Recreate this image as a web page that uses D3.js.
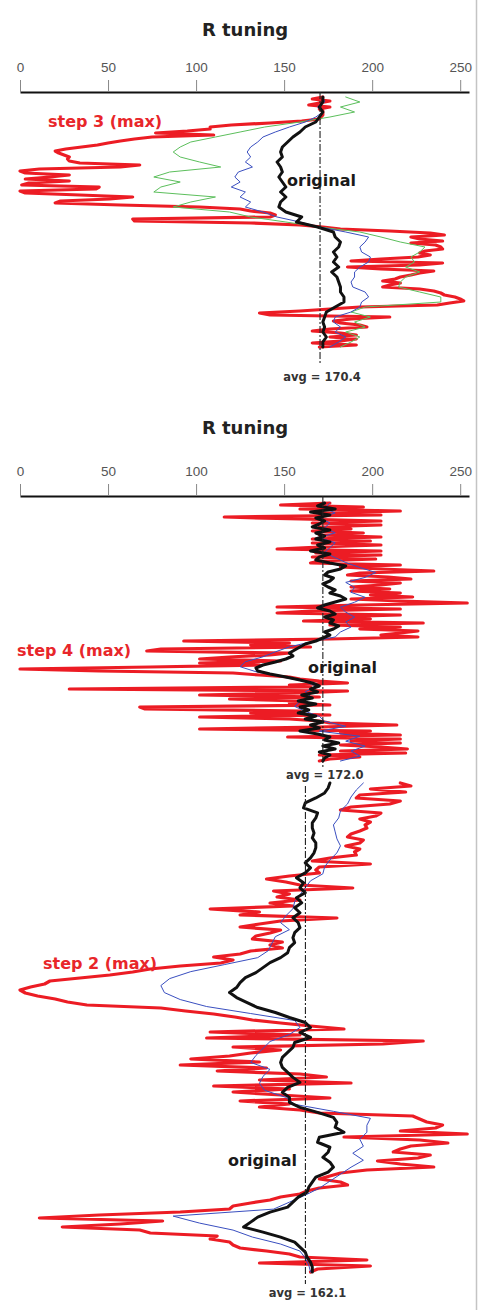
<!DOCTYPE html>
<html>
<head>
<meta charset="utf-8">
<script src="https://cdn.jsdelivr.net/npm/d3@7"></script>
<style>
  body { margin: 0; background: #fff; }
  svg { display: block; }
</style>
</head>
<body>
<div id="chart"></div>
<script>
// axis ticks (R value)
const tickValues = [0, 50, 100, 150, 200, 250];
const titleText = 'R tuning';
const avgValues = [170.4, 172.0, 162.1];

// profile A : step 3 (max) - samples top to bottom
const aRed = [172,166,176,170,164,176,170,172,172,172,171,170,160,142,120,108,108,95,77,110,75,65,57,50,44,35,26,20,22,25,28,27,28,
  34,68,57,11,0,3,28,17,3,28,5,1,45,43,0,3,34,64,51,23,20,57,102,125,131,142,145,142,64,65,131,159,172,182,210,233,241,222,227,240,
  222,236,239,240,230,227,233,226,205,188,240,227,186,205,235,227,222,216,213,206,216,210,206,227,235,239,241,247,250,252,244,237,
  193,176,159,136,142,210,188,178,182,193,197,176,166,182,191,176,191,182,166,191,170];
const aGreen = [185,193,182,190,176,159,139,125,111,97,91,87,91,102,114,85,76,91,80,76,111,97,87,119,131,151,170,193,205,216,
  230,227,222,224,219,227,219,216,215,227,239,239,196,188,199,190,196,185,193,188,182];
const aBlue = [172,173,169,172,168,162,153,145,138,135,131,129,131,128,132,124,122,125,120,128,125,131,128,138,146,159,170,185,198,196,
  193,194,199,198,193,190,190,188,189,196,198,194,193,188,179,178,182,179,185,181,176];
const aBlack = [172,172,170,172,170,168,162,159,155,152,149,148,149,146,148,149,147,149,151,148,151,148,147,151,160,157,169,178,179,182,
  181,178,180,178,181,177,180,181,182,182,184,184,179,174,173,172,173,172,174,172,172];

// profile B : step 4 (max)
const bRed = [176,148,195,159,216,170,205,116,159,205,166,205,170,188,166,195,170,205,166,199,166,205,170,146,205,168,205,166,202,170,
  165,216,182,205,235,193,186,209,222,188,216,205,188,210,188,216,199,223,188,216,254,193,146,216,165,146,216,176,199,161,
  229,176,216,193,226,216,205,226,176,93,153,131,165,80,72,153,142,119,102,148,102,136,74,0,45,121,136,153,159,170,
  186,153,165,28,186,159,102,170,119,159,153,176,68,71,159,131,176,102,153,170,176,214,170,102,199,182,216,152,216,188,
  216,182,205,220,182,219,170,193,176,170];
const bBlue = [176,173,179,170,176,173,179,170,179,176,173,179,185,193,202,196,185,190,188,196,190,182,185,190,185,188,182,179,165,153,
  145,138,128,125,134,148,162,169,162,165,159,156,162,170,173,185,170,193,185,196,188,193,182];
const bBlack = [173,169,179,165,176,168,173,170,166,176,168,173,168,176,169,173,165,176,170,168,176,185,182,175,173,178,176,172,175,179,
  176,182,185,179,173,169,176,179,173,178,176,181,178,173,176,172,168,162,159,156,153,155,151,145,138,134,135,142,151,159,
  166,170,165,169,160,166,158,168,159,164,158,168,162,172,165,170,159,169,176,173,181,172,179,170,176,173,172];

// profile C : step 2 (max)
const cRed = [216,222,199,219,193,191,216,210,188,182,205,202,193,199,196,197,193,188,186,195,193,185,193,190,191,176,166,199,170,168,
  170,153,140,151,159,189,144,153,146,159,142,155,108,136,125,180,148,136,125,148,142,134,132,149,142,149,131,125,110,121,
  114,91,74,64,51,34,17,14,6,0,3,10,20,27,38,80,94,110,122,132,148,165,184,108,159,106,229,206,121,148,
  131,119,97,136,91,140,112,159,174,136,188,110,153,121,148,176,125,153,136,159,170,223,227,231,240,236,216,254,184,227,
  243,222,216,212,233,226,203,216,235,197,182,176,170,182,186,170,163,159,148,142,131,121,119,91,45,11,81,57,24,68,
  74,112,108,119,121,125,140,153,159,197,136,199,169,165];
const cBlue = [195,191,188,186,182,181,178,179,180,182,180,176,173,172,165,162,159,156,155,151,148,153,145,143,141,135,116,97,85,80,
  82,91,106,131,156,159,153,142,138,134,131,142,138,136,139,151,156,178,199,197,197,193,195,189,195,188,182,176,170,162,
  153,144,87,102,121,132,148,159,162,164,165];
const cBlack = [176,175,173,168,162,161,169,168,166,166,167,166,168,168,167,165,162,165,162,157,161,159,162,157,160,156,159,155,158,159,
  156,155,156,153,152,148,142,138,134,128,125,123,119,123,129,135,145,153,162,165,159,165,156,155,152,149,148,149,152,155,
  159,152,149,153,153,159,169,178,180,179,184,170,169,176,175,172,176,178,175,168,166,164,163,158,155,152,142,135,131,127,
  138,148,156,159,162,163,165,166,166];

const width = 479, height = 1310;
const colors = { red: '#ec1c24', green: '#5cbf5c', blue: '#3a4fc0', black: '#111111' };
const fontBold = "'DejaVu Sans', Verdana, sans-serif";

const svg = d3
  .select('#chart')
  .append('svg')
  .attr('width', width)
  .attr('height', height);

svg.append('rect').attr('width', width).attr('height', height).attr('fill', '#fff');

// right frame edge
svg
  .append('line')
  .attr('x1', 476.5)
  .attr('x2', 476.5)
  .attr('y1', 0)
  .attr('y2', height)
  .attr('stroke', '#c4c4c4')
  .attr('stroke-width', 1.5);

const x = d3.scaleLinear().domain([0, 255]).range([20, 469]);

// Axis panels
const panels = [
  { axisY: 92, titleY: 36 },
  { axisY: 496, titleY: 434 }
];

panels.forEach(p => {
  svg
    .append('text')
    .attr('x', 245)
    .attr('y', p.titleY)
    .attr('text-anchor', 'middle')
    .attr('font-family', fontBold)
    .attr('font-weight', 'bold')
    .attr('font-size', 18)
    .attr('fill', '#222')
    .text(titleText);

  const axis = d3
    .axisTop(x)
    .tickValues(tickValues)
    .tickSize(12)
    .tickSizeOuter(0)
    .tickPadding(8);
  const gA = svg
    .append('g')
    .attr('transform', 'translate(0,' + p.axisY + ')')
    .call(axis);
  gA.select('.domain').attr('stroke', '#111').attr('stroke-width', 2);
  gA.selectAll('.tick line').attr('stroke', '#888').attr('stroke-width', 1);
  gA
    .selectAll('.tick text')
    .attr('font-family', "'Liberation Sans', Arial, sans-serif")
    .attr('font-size', 13.5)
    .attr('fill', '#555');
});

// Profile segments
const segments = [
  { y0: 97, y1: 347, series: [['red', aRed], ['green', aGreen], ['blue', aBlue], ['black', aBlack]] },
  { y0: 503, y1: 761, series: [['red', bRed], ['blue', bBlue], ['black', bBlack]] },
  { y0: 783, y1: 1272, series: [['red', cRed], ['blue', cBlue], ['black', cBlack]] }
];

const widths = { red: 3.2, green: 1, blue: 1, black: 3 };

segments.forEach(seg => {
  const gS = svg.append('g').attr('class', 'segment');
  seg.series.forEach(([key, values]) => {
    const y = d3
      .scaleLinear()
      .domain([0, values.length - 1])
      .range([seg.y0, seg.y1]);
    const line = d3
      .line()
      .x(d => x(Math.max(d, -1)))
      .y((d, i) => y(i));
    gS
      .append('path')
      .datum(values)
      .attr('d', line)
      .attr('fill', 'none')
      .attr('stroke', colors[key])
      .attr('stroke-width', widths[key])
      .attr('stroke-linejoin', 'round')
      .attr('stroke-linecap', 'round');
  });
});

// Average lines
const avgLines = [
  { y0: 92, y1: 364, labelY: 381 },
  { y0: 496, y1: 767, labelY: 779 },
  { y0: 786, y1: 1284, labelY: 1297 }
];
avgLines.forEach((a, i) => {
  svg
    .append('line')
    .attr('x1', x(avgValues[i]))
    .attr('x2', x(avgValues[i]))
    .attr('y1', a.y0)
    .attr('y2', a.y1)
    .attr('stroke', '#222')
    .attr('stroke-width', 1.1)
    .attr('stroke-dasharray', '7,2,2,2');
  svg
    .append('text')
    .attr('x', x(avgValues[i]) + 2)
    .attr('y', a.labelY)
    .attr('text-anchor', 'middle')
    .attr('font-family', fontBold)
    .attr('font-weight', 'bold')
    .attr('font-size', 11.5)
    .attr('fill', '#333')
    .text('avg = ' + avgValues[i].toFixed(1));
});

// Annotations
const notes = [
  { text: 'step 3 (max)', x: 48, y: 127, anchor: 'start', color: '#e8262a' },
  { text: 'original', x: 287, y: 186, anchor: 'start', color: '#1a1a1a' },
  { text: 'step 4 (max)', x: 17, y: 656, anchor: 'start', color: '#e8262a' },
  { text: 'original', x: 308, y: 673, anchor: 'start', color: '#1a1a1a' },
  { text: 'step 2 (max)', x: 43, y: 969, anchor: 'start', color: '#e8262a' },
  { text: 'original', x: 297, y: 1166, anchor: 'end', color: '#1a1a1a' }
];
notes.forEach(n => {
  svg
    .append('text')
    .attr('x', n.x)
    .attr('y', n.y)
    .attr('text-anchor', n.anchor)
    .attr('font-family', fontBold)
    .attr('font-weight', 'bold')
    .attr('font-size', 16)
    .attr('fill', n.color)
    .text(n.text);
});
</script>
</body>
</html>
